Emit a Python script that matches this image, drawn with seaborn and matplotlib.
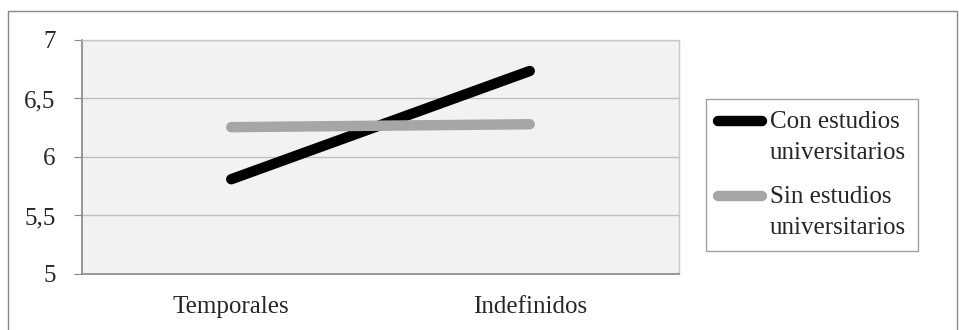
import matplotlib
matplotlib.use("Agg")
import matplotlib.pyplot as plt
from matplotlib.legend_handler import HandlerLine2D
import seaborn as sns
import pandas as pd

categorias = ["Temporales", "Indefinidos"]
con_estudios = [5.81, 6.735]
sin_estudios = [6.255, 6.28]
series = ["Con estudios\nuniversitarios", "Sin estudios\nuniversitarios"]

df = pd.DataFrame({
    "tipo": categorias * 2,
    "x": [0, 1] * 2,
    "valor": con_estudios + sin_estudios,
    "grupo": [series[0]] * 2 + [series[1]] * 2,
})


class HandlerTop(HandlerLine2D):
    # put the legend line next to the first text line, like Excel does
    def create_artists(self, legend, orig_handle, xdescent, ydescent,
                       width, height, fontsize, trans):
        arts = super().create_artists(legend, orig_handle, xdescent, ydescent,
                                      width, height, fontsize, trans)
        for a in arts:
            a.set_ydata([y + 11.5 for y in a.get_ydata()])
        return arts


sns.set_style("white")
plt.rcParams['font.family'] = ['Liberation Serif', 'DejaVu Serif']
fs = 18

fig = plt.figure(figsize=(9.59, 3.30), dpi=100)
ax = fig.add_axes([0.0855, 0.1697, 0.6225, 0.7091])
ax.set_facecolor("#f2f2f2")

sns.lineplot(data=df, x="x", y="valor", hue="grupo", hue_order=series,
             palette=["#000000", "#a6a6a6"], linewidth=7.5, ax=ax)
for ln in ax.get_lines():
    ln.set_solid_capstyle("round")

ax.set_xlim(-0.5, 1.5)
ax.set_ylim(5, 7)
ax.set_yticks([5, 5.5, 6, 6.5, 7])
ax.set_yticklabels(["5", "5,5", "6", "6,5", "7"], fontsize=fs)
ax.yaxis.grid(True, color="#c0c0c0", linewidth=1)
ax.set_axisbelow(True)
ax.set_xticks([-0.5, 0.5, 1.5])
ax.set_xticklabels([])
ax.set_xticks([0, 1], minor=True)
ax.set_xticklabels(categorias, minor=True, fontsize=fs)
ax.tick_params(axis="x", which="minor", length=0, pad=16)
ax.tick_params(axis="x", which="major", length=6, color="#888888", direction="out")
ax.tick_params(axis="y", length=6, color="#888888", direction="out", pad=13, left=True)
ax.set_xlabel("")
ax.set_ylabel("")
for s in ["left", "bottom"]:
    ax.spines[s].set_color("#888888")
    ax.spines[s].set_linewidth(1.2)
for s in ["top", "right"]:
    ax.spines[s].set_color("#c8c8c8")
    ax.spines[s].set_linewidth(1)

handles, labels = ax.get_legend_handles_labels()
for h in handles:
    h.set_linewidth(7.5)
    h.set_solid_capstyle("round")
leg = ax.legend(handles, labels, loc="upper left", bbox_to_anchor=(1.045, 0.748),
                fontsize=fs, frameon=True, fancybox=False, handlelength=1.75,
                handletextpad=0.3, borderpad=0.5, labelspacing=0.9,
                borderaxespad=0, handler_map={type(handles[0]): HandlerTop()})
leg.get_frame().set_edgecolor("#888888")
leg.get_frame().set_linewidth(1)
for t in leg.get_texts():
    t.set_linespacing(1.5)

fig.patches.append(plt.Rectangle((8 / 959, -0.1), 949 / 959, 1.1 - 11 / 330,
                                 transform=fig.transFigure, fill=False,
                                 edgecolor="#888888", linewidth=1))

fig.savefig("out.png", dpi=100)
